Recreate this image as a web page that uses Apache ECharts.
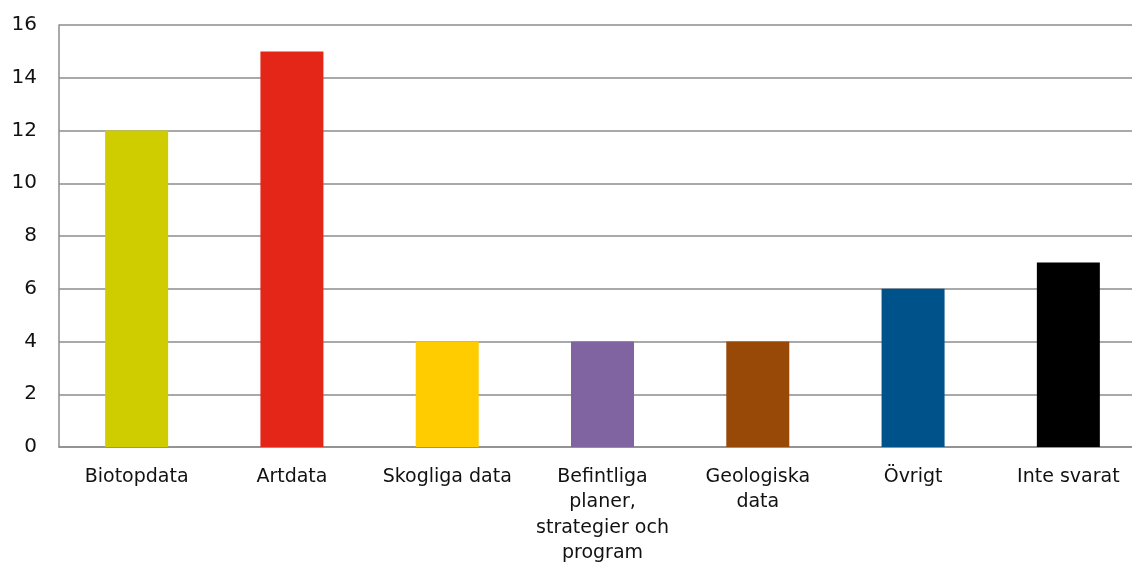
<!DOCTYPE html>
<html>
<head>
<meta charset="utf-8">
<script src="https://cdn.jsdelivr.net/npm/echarts@6/dist/echarts.min.js"></script>
<style>
    html, body { margin: 0; padding: 0; background: #fff; overflow: hidden; }
    #chart { width: 1132px; height: 563px; }
</style>
</head>
<body>
<div id="chart"></div>
<script>
    var categories = ['Biotopdata', 'Artdata', 'Skogliga data', 'Befintliga\nplaner,\nstrategier och\nprogram', 'Geologiska\ndata', 'Övrigt', 'Inte svarat'];
    var values = [12, 15, 4, 4, 4, 6, 7];
    var barColors = ['#cfcd00', '#e42618', '#ffcc00', '#8064a2', '#984807', '#00528a', '#000000'];

    var myChart = echarts.init(document.getElementById('chart'));
    var option = {
        animation: false,
        grid: {
            top: 25,
            left: 59,
            width: 1087,
            bottom: 116,
            outerBoundsMode: 'none'
        },
        xAxis: {
            type: 'category',
            data: categories,
            axisLine: { lineStyle: { color: '#8c8c8c', width: 1.5 } },
            axisTick: { show: false },
            axisLabel: {
                color: '#111',
                fontSize: 19,
                fontFamily: 'DejaVu Sans',
                lineHeight: 25.5,
                margin: 17,
                interval: 0
            }
        },
        yAxis: {
            type: 'value',
            min: 0,
            max: 16,
            interval: 2,
            axisLine: { show: true, lineStyle: { color: '#8c8c8c', width: 1.5 } },
            axisTick: { show: false },
            splitLine: { lineStyle: { color: '#8c8c8c', width: 1.5 } },
            axisLabel: {
                color: '#111',
                fontSize: 20,
                fontFamily: 'DejaVu Sans',
                margin: 22
            }
        },
        series: [{
            type: 'bar',
            data: values.map(function (v, i) {
                return { value: v, itemStyle: { color: barColors[i] } };
            }),
            barWidth: 63
        }]
    };
    myChart.setOption(option);
</script>
</body>
</html>
